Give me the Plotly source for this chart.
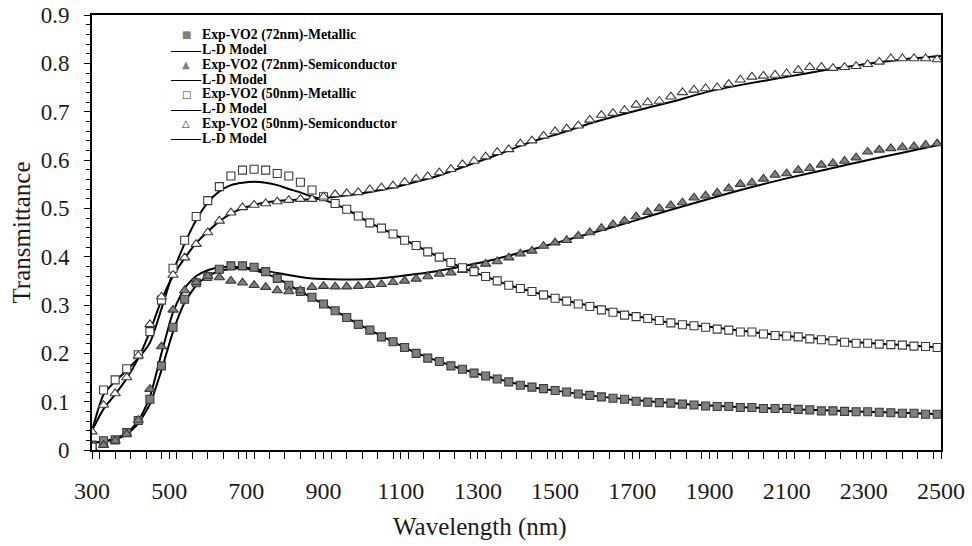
import plotly.graph_objects as go

# ---------------- data ----------------
wavelength = [300 + 30 * k for k in range(74)]  # 300 ... 2490 nm

exp_72_metallic = [
    0.010, 0.019, 0.021, 0.036, 0.061, 0.105, 0.174, 0.254, 0.312, 0.346,
    0.359, 0.374, 0.381, 0.381, 0.378, 0.369, 0.355, 0.341, 0.328, 0.316,
    0.302, 0.288, 0.274, 0.260, 0.248, 0.234, 0.224, 0.212, 0.200, 0.190,
    0.183, 0.174, 0.167, 0.159, 0.153, 0.147, 0.141, 0.134, 0.130, 0.127,
    0.123, 0.120, 0.116, 0.113, 0.110, 0.107, 0.105, 0.101, 0.099, 0.098,
    0.097, 0.095, 0.093, 0.091, 0.090, 0.090, 0.088, 0.088, 0.086, 0.086,
    0.086, 0.084, 0.083, 0.081, 0.081, 0.080, 0.079, 0.079, 0.078, 0.077,
    0.076, 0.076, 0.074, 0.074,
]

exp_72_semiconductor = [
    0.005, 0.010, 0.019, 0.033, 0.062, 0.126, 0.214, 0.290, 0.330, 0.347,
    0.360, 0.357, 0.350, 0.346, 0.341, 0.337, 0.330, 0.328, 0.330, 0.337,
    0.339, 0.338, 0.338, 0.339, 0.341, 0.343, 0.347, 0.350, 0.354, 0.359,
    0.364, 0.367, 0.372, 0.378, 0.385, 0.390, 0.398, 0.406, 0.412, 0.422,
    0.429, 0.434, 0.443, 0.450, 0.459, 0.467, 0.474, 0.483, 0.492, 0.500,
    0.506, 0.512, 0.522, 0.526, 0.532, 0.541, 0.550, 0.553, 0.561, 0.569,
    0.572, 0.579, 0.583, 0.590, 0.593, 0.598, 0.605, 0.617, 0.621, 0.624,
    0.626, 0.628, 0.631, 0.634,
]

exp_50_metallic = [
    0.006, 0.124, 0.145, 0.168, 0.197, 0.245, 0.310, 0.376, 0.434, 0.483,
    0.516, 0.545, 0.567, 0.579, 0.581, 0.579, 0.572, 0.567, 0.554, 0.538,
    0.524, 0.510, 0.498, 0.484, 0.470, 0.459, 0.447, 0.434, 0.423, 0.410,
    0.399, 0.388, 0.377, 0.369, 0.359, 0.350, 0.341, 0.334, 0.328, 0.321,
    0.314, 0.308, 0.302, 0.297, 0.290, 0.285, 0.279, 0.276, 0.272, 0.268,
    0.263, 0.259, 0.257, 0.254, 0.250, 0.248, 0.244, 0.244, 0.240, 0.237,
    0.236, 0.234, 0.230, 0.228, 0.226, 0.223, 0.221, 0.221, 0.219, 0.218,
    0.217, 0.215, 0.214, 0.212,
]

exp_50_semiconductor = [
    0.038, 0.093, 0.117, 0.150, 0.195, 0.260, 0.317, 0.362, 0.398, 0.426,
    0.450, 0.474, 0.491, 0.502, 0.507, 0.510, 0.514, 0.517, 0.519, 0.519,
    0.524, 0.529, 0.531, 0.533, 0.539, 0.543, 0.547, 0.554, 0.561, 0.566,
    0.574, 0.581, 0.591, 0.598, 0.607, 0.616, 0.622, 0.634, 0.640, 0.650,
    0.659, 0.665, 0.671, 0.683, 0.693, 0.697, 0.703, 0.714, 0.719, 0.722,
    0.731, 0.740, 0.745, 0.748, 0.750, 0.757, 0.766, 0.772, 0.774, 0.776,
    0.779, 0.786, 0.792, 0.792, 0.790, 0.792, 0.794, 0.798, 0.803, 0.810,
    0.810, 0.810, 0.810, 0.808,
]

model_wavelength = [
    300, 330, 360, 390, 420, 450, 480, 510, 540, 570, 600, 630, 660, 690,
    720, 750, 780, 810, 840, 870, 900, 960, 1020, 1080, 1140, 1200, 1260,
    1320, 1380, 1440, 1500, 1600, 1700, 1800, 1900, 2000, 2100, 2200, 2300,
    2400, 2500,
]

model_72_metallic = [
    0.015, 0.017, 0.022, 0.032, 0.055, 0.095, 0.165, 0.245, 0.305, 0.340,
    0.360, 0.370, 0.375, 0.376, 0.372, 0.365, 0.355, 0.342, 0.328, 0.315,
    0.302, 0.274, 0.248, 0.224, 0.201, 0.183, 0.167, 0.153, 0.141, 0.130,
    0.123, 0.112, 0.104, 0.097, 0.092, 0.088, 0.085, 0.082, 0.079, 0.077,
    0.074,
]

model_72_semiconductor = [
    0.015, 0.018, 0.024, 0.035, 0.060, 0.110, 0.200, 0.285, 0.335, 0.360,
    0.372, 0.378, 0.379, 0.378, 0.375, 0.371, 0.366, 0.362, 0.358, 0.355,
    0.354, 0.353, 0.354, 0.358, 0.364, 0.371, 0.380, 0.390, 0.402, 0.415,
    0.428, 0.450, 0.473, 0.497, 0.520, 0.542, 0.562, 0.580, 0.598, 0.615,
    0.632,
]

model_50_metallic = [
    0.040, 0.115, 0.142, 0.165, 0.190, 0.222, 0.292, 0.368, 0.427, 0.476,
    0.512, 0.535, 0.548, 0.553, 0.555, 0.553, 0.548, 0.540, 0.533, 0.524,
    0.518, 0.498, 0.470, 0.447, 0.423, 0.399, 0.377, 0.359, 0.341, 0.328,
    0.314, 0.297, 0.279, 0.263, 0.255, 0.245, 0.236, 0.229, 0.222, 0.217,
    0.212,
]

model_50_semiconductor = [
    0.040, 0.085, 0.115, 0.148, 0.190, 0.245, 0.310, 0.360, 0.397, 0.428,
    0.452, 0.473, 0.489, 0.500, 0.507, 0.512, 0.515, 0.517, 0.518, 0.519,
    0.521, 0.527, 0.534, 0.543, 0.555, 0.568, 0.585, 0.602, 0.620, 0.638,
    0.652, 0.678, 0.700, 0.720, 0.742, 0.758, 0.772, 0.786, 0.798, 0.808,
    0.815,
]

legend_labels = [
    "Exp-VO2 (72nm)-Metallic", "L-D Model",
    "Exp-VO2 (72nm)-Semiconductor", "L-D Model",
    "Exp-VO2 (50nm)-Metallic", "L-D Model",
    "Exp-VO2 (50nm)-Semiconductor", "L-D Model",
]

x_title = "Wavelength (nm)"
y_title = "Transmittance"

# ---------------- figure ----------------
GRAY = "#7f7f7f"
EDGE = "#3a3a3a"
SERIF = "Liberation Serif"
TXT = "#1a1a1a"

L, R, T, B = 92, 31, 15, 96
W, H = 972, 546
PW, PH = W - L - R, H - T - B

fig = go.Figure()

models = [model_72_metallic, model_72_semiconductor, model_50_metallic, model_50_semiconductor]
for m in models:
    fig.add_trace(go.Scatter(
        x=model_wavelength, y=m, mode="lines", name="L-D Model",
        line=dict(color="black", width=2, shape="spline", smoothing=0.6),
        showlegend=False, hoverinfo="skip",
    ))

exp_series = [
    (exp_72_metallic, "square", GRAY, legend_labels[0]),
    (exp_72_semiconductor, "triangle-up", GRAY, legend_labels[2]),
    (exp_50_metallic, "square", "white", legend_labels[4]),
    (exp_50_semiconductor, "triangle-up", "white", legend_labels[6]),
]
for vals, sym, fill, name in exp_series:
    fig.add_trace(go.Scatter(
        x=wavelength, y=vals, mode="markers", name=name,
        marker=dict(symbol=sym, size=8 if sym == "square" else 9,
                    color=fill, line=dict(color=EDGE, width=1.1)),
        showlegend=False,
    ))

# legend drawn as text (compact like the original)
symbols = [
    ("■", GRAY), (None, None), ("▲", GRAY), (None, None),
    ("□", "#333333"), (None, None), ("△", "#333333"), (None, None),
]
top_y = 35
step = 14.75


def px_to_paper_x(px):
    return (px - L) / PW


def px_to_paper_y(py):
    return 1 - (py - T) / PH


for i, lab in enumerate(legend_labels):
    ypap = px_to_paper_y(top_y + step * i)
    sym, col = symbols[i]
    if sym is None:
        fig.add_annotation(
            xref="paper", yref="paper", x=px_to_paper_x(169), y=ypap,
            xanchor="left", yanchor="middle", showarrow=False,
            text="<b>——</b>", font=dict(family=SERIF, size=15, color="black"),
            borderpad=0,
        )
    else:
        fig.add_annotation(
            xref="paper", yref="paper", x=px_to_paper_x(186), y=ypap,
            xanchor="center", yanchor="middle", showarrow=False,
            text=sym, font=dict(family="DejaVu Sans", size=10, color=col),
            borderpad=0,
        )
    fig.add_annotation(
        xref="paper", yref="paper", x=px_to_paper_x(201), y=ypap,
        xanchor="left", yanchor="middle", showarrow=False,
        text="<b>%s</b>" % lab, font=dict(family=SERIF, size=13.8, color="black"),
        borderpad=0,
    )

# x-axis title (sits slightly left of centre in the original)
fig.add_annotation(
    xref="paper", yref="paper", x=px_to_paper_x(480), y=px_to_paper_y(527),
    xanchor="center", yanchor="middle", showarrow=False,
    text=x_title, font=dict(family=SERIF, size=25, color=TXT),
)

fig.update_layout(
    width=W, height=H,
    margin=dict(l=L, r=R, t=T, b=B),
    paper_bgcolor="white", plot_bgcolor="white",
    font=dict(family=SERIF, size=22, color=TXT),
    showlegend=False,
)
fig.update_xaxes(
    range=[300, 2500], tickmode="linear", tick0=300, dtick=200,
    ticks="outside", ticklen=7, tickwidth=1.2, tickcolor="black",
    minor=dict(dtick=40, ticks="outside", ticklen=7, tickwidth=1.2, tickcolor="black"),
    showline=True, linewidth=2, linecolor="black", mirror=True,
    showgrid=False, zeroline=False, ticklabelstandoff=11, automargin=False,
    tickfont=dict(family=SERIF, size=24, color=TXT),
)
fig.update_yaxes(
    range=[0, 0.9], tickmode="linear", tick0=0, dtick=0.1,
    ticks="outside", ticklen=6, tickwidth=1.2, tickcolor="black",
    minor=dict(dtick=0.02, ticks="outside", ticklen=4, tickwidth=1.2, tickcolor="black"),
    showline=True, linewidth=2, linecolor="black", mirror=True,
    showgrid=False, zeroline=False, ticklabelstandoff=10, automargin=False,
    title=dict(text=y_title, standoff=3,
               font=dict(family=SERIF, size=25, color=TXT)),
    tickfont=dict(family=SERIF, size=23, color=TXT),
)

fig.write_html("out.html")
